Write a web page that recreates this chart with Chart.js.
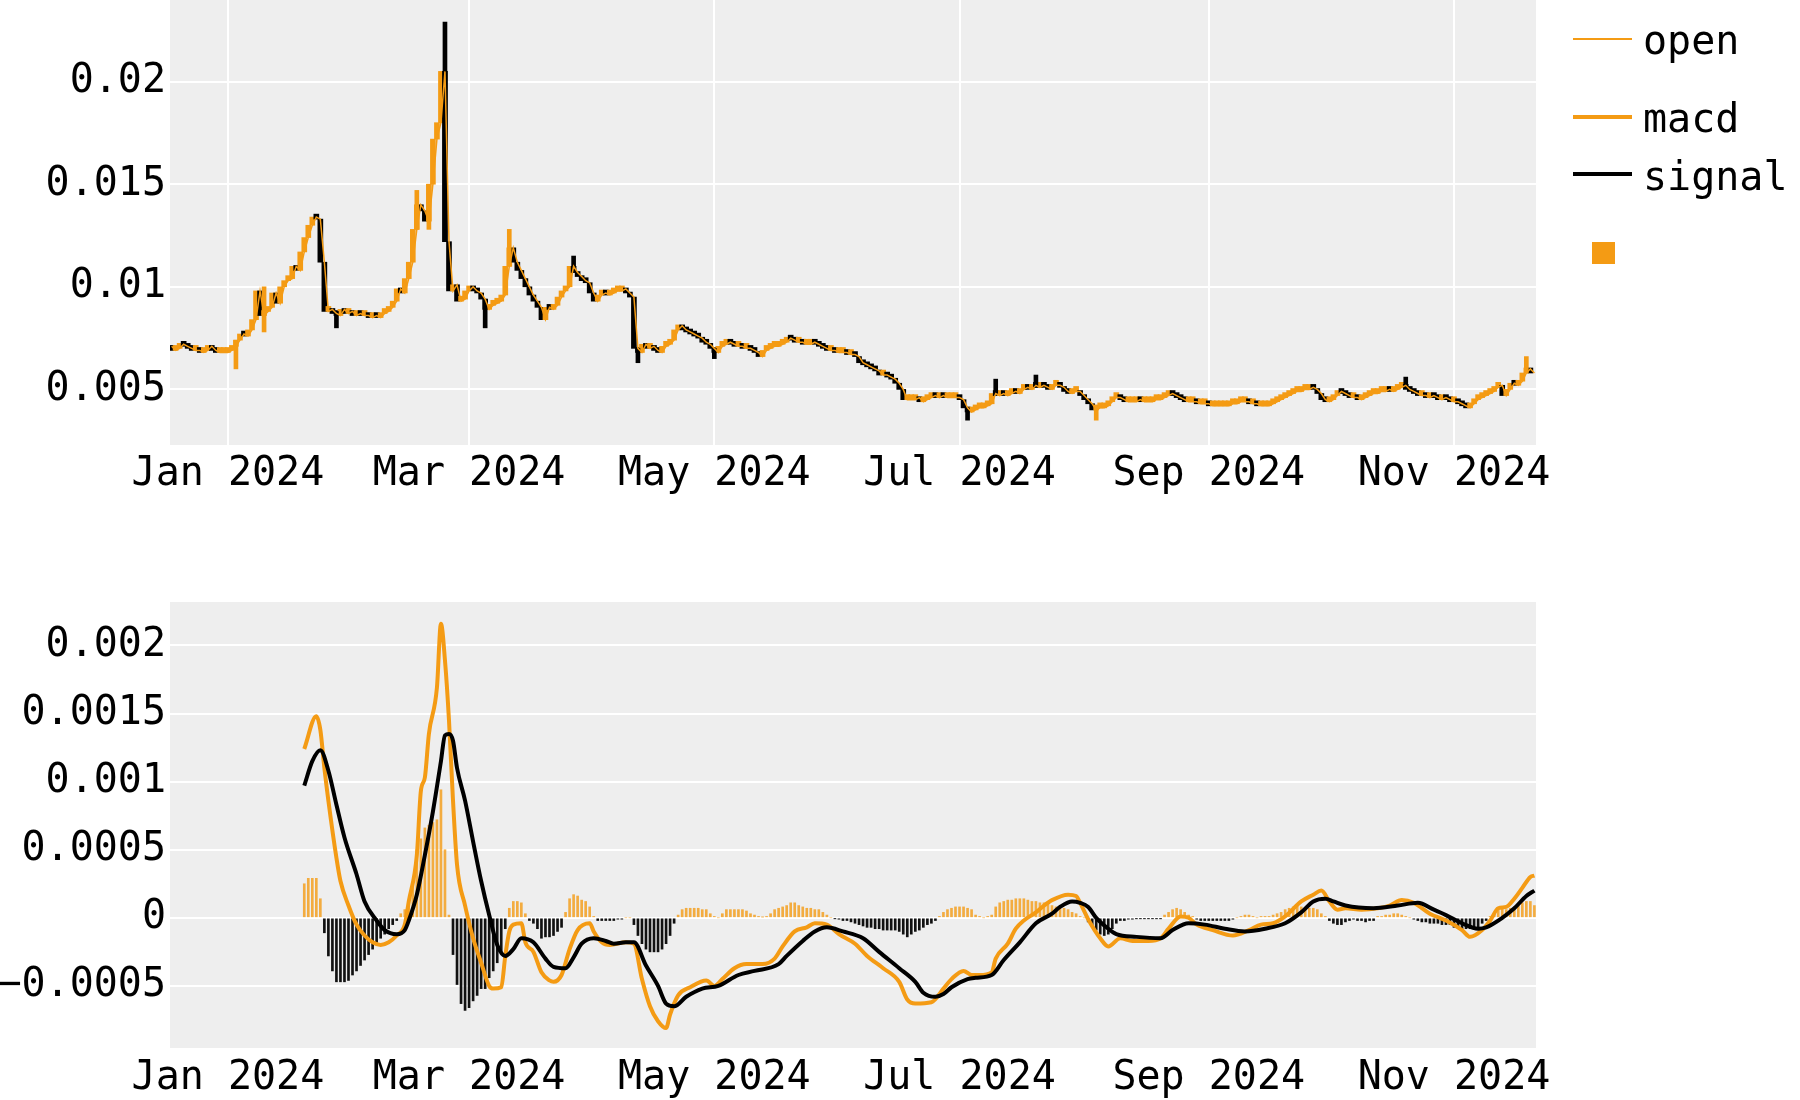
<!DOCTYPE html>
<html><head><meta charset="utf-8">
<script src="https://cdn.jsdelivr.net/npm/chart.js@4.4.1/dist/chart.umd.min.js"></script>
<style>
html,body{margin:0;padding:0;background:#fff;}
#wrap{position:relative;width:1800px;height:1100px;overflow:hidden;background:#fff;}
#top{position:absolute;left:0;top:0;width:1800px;height:530px;}
#bot{position:absolute;left:0;top:550px;width:1800px;height:550px;}
.lg{position:absolute;font-family:'DejaVu Sans Mono',monospace;font-size:40px;line-height:40px;color:#000;white-space:nowrap;}
.ln{position:absolute;}
</style></head>
<body><div id="wrap">
<canvas id="top" width="1800" height="530"></canvas>
<canvas id="bot" width="1800" height="550"></canvas>
<div class="ln" style="left:1573px;top:38px;width:59px;height:2px;background:#f49b14"></div>
<div class="lg" style="left:1643px;top:20px">open</div>
<div class="ln" style="left:1573px;top:115px;width:59px;height:4px;background:#f49b14"></div>
<div class="lg" style="left:1643px;top:98px">macd</div>
<div class="ln" style="left:1573px;top:172px;width:59px;height:4px;background:#000"></div>
<div class="lg" style="left:1643px;top:156px">signal</div>
<div class="ln" style="left:1592px;top:242px;width:23px;height:22px;background:#f49b14"></div>
</div>
<script>
// ---------- data ----------
const tickDays = [0, 60, 121, 182, 244, 305]; // days since 1 Jan 2024
const tickLabels = ['Jan 2024','Mar 2024','May 2024','Jul 2024','Sep 2024','Nov 2024'];
const priceTicks = [0.005, 0.01, 0.015, 0.02];
const priceTickLabels = ['0.005','0.01','0.015','0.02'];
const macdTicks = [-0.0005, 0, 0.0005, 0.001, 0.0015, 0.002];
const macdTickLabels = ['\u22120.0005','0','0.0005','0.001','0.0015','0.002'];

const openStartDay = -14;
const openPrices = [
0.0071,0.0069,0.0070,0.0072,0.0071,0.0070,0.0069,0.0069,0.0068,0.0069,
0.0071,0.0069,0.0068,0.0068,0.0068,0.0069,0.0071,0.0074,0.0077,0.0076,
0.0079,0.0084,0.0098,0.0086,0.0088,0.0090,0.0097,0.0092,0.0100,0.0103,
0.0104,0.0110,0.0108,0.0117,0.0124,0.0130,0.0134,0.0133,0.0112,0.0088,
0.0089,0.0087,0.0086,0.0089,0.0087,0.0088,0.0086,0.0087,0.0086,0.0086,
0.0085,0.0086,0.0085,0.0087,0.0088,0.0090,0.0093,0.0099,0.0097,0.0104,
0.0112,0.0128,0.0140,0.0137,0.0132,0.0150,0.0172,0.0180,0.0205,0.0122,
0.0098,0.0101,0.0093,0.0094,0.0098,0.0100,0.0098,0.0097,0.0094,0.0089,
0.0091,0.0092,0.0093,0.0096,0.0110,0.0119,0.0112,0.0108,0.0104,0.0100,
0.0096,0.0093,0.0090,0.0084,0.0090,0.0089,0.0091,0.0095,0.0098,0.0100,
0.0110,0.0107,0.0105,0.0103,0.0102,0.0097,0.0093,0.0096,0.0097,0.0096,
0.0097,0.0098,0.0098,0.0099,0.0097,0.0095,0.0070,0.0068,0.0072,0.0070,
0.0071,0.0069,0.0068,0.0071,0.0072,0.0074,0.0079,0.0081,0.0079,0.0078,
0.0077,0.0076,0.0075,0.0073,0.0072,0.0070,0.0068,0.0071,0.0072,0.0073,
0.0072,0.0071,0.0071,0.0070,0.0070,0.0069,0.0068,0.0066,0.0069,0.0070,
0.0071,0.0071,0.0072,0.0073,0.0075,0.0074,0.0073,0.0073,0.0072,0.0072,
0.0073,0.0072,0.0071,0.0070,0.0069,0.0069,0.0068,0.0068,0.0068,0.0067,
0.0067,0.0066,0.0063,0.0062,0.0061,0.0060,0.0059,0.0057,0.0057,0.0056,
0.0055,0.0053,0.0050,0.0045,0.0045,0.0045,0.0046,0.0044,0.0045,0.0046,
0.0047,0.0046,0.0047,0.0046,0.0046,0.0046,0.0046,0.0045,0.0041,0.0039,
0.0040,0.0041,0.0041,0.0042,0.0043,0.0048,0.0047,0.0048,0.0047,0.0048,
0.0049,0.0048,0.0050,0.0051,0.0050,0.0052,0.0051,0.0052,0.0051,0.0050,
0.0052,0.0052,0.0051,0.0049,0.0048,0.0049,0.0049,0.0047,0.0045,0.0043,
0.0040,0.0041,0.0041,0.0042,0.0044,0.0046,0.0046,0.0045,0.0044,0.0044,
0.0044,0.0045,0.0044,0.0044,0.0044,0.0045,0.0045,0.0046,0.0047,0.0048,
0.0047,0.0046,0.0045,0.0044,0.0044,0.0044,0.0043,0.0043,0.0043,0.0042,
0.0042,0.0042,0.0042,0.0042,0.0043,0.0043,0.0044,0.0044,0.0044,0.0043,
0.0043,0.0042,0.0042,0.0042,0.0043,0.0044,0.0045,0.0046,0.0047,0.0048,
0.0049,0.0049,0.0050,0.0050,0.0051,0.0050,0.0048,0.0045,0.0044,0.0045,
0.0047,0.0049,0.0048,0.0047,0.0046,0.0046,0.0045,0.0046,0.0047,0.0048,
0.0048,0.0049,0.0049,0.0050,0.0049,0.0050,0.0051,0.0052,0.0050,0.0049,
0.0048,0.0047,0.0047,0.0046,0.0047,0.0046,0.0045,0.0046,0.0045,0.0044,
0.0044,0.0043,0.0042,0.0041,0.0043,0.0045,0.0046,0.0047,0.0048,0.0049,
0.0051,0.0052,0.0047,0.0050,0.0053,0.0052,0.0054,0.0058,0.0060,0.0058
];

const wickDays = [2, 9, 27, 47, 50, 54, 64, 70, 86, 102, 121, 184, 191, 201, 216, 293, 323];
const wickLow  = [0.0060,0.0078,0.0080,0.0128,0.0128,0.0122,0.0080,0.0110,0.0107,0.0063,0.0065,0.0035,0.0048,0.0051,0.0035,0.0052,0.0058];
const wickHigh = [0.0074,0.0100,0.0088,0.0147,0.0150,0.0229,0.0094,0.0128,0.0115,0.0070,0.0070,0.0041,0.0055,0.0057,0.0041,0.0056,0.0066];

const macdDays = [19,22,23,24,25,27,28,30,32,34,36,38,40,42,44,45,47,48,49,50,52,53,54,55,56,57,59,61,63,65,66,68,69,70,71,73,74,76,78,80,81,83,85,87,90,91,93,95,99,101,103,105,107,109,110,112,115,119,121,123,126,129,133,136,138,141,144,146,149,152,156,159,163,167,169,171,175,178,180,183,185,187,190,191,194,196,198,201,203,205,209,211,212,214,217,219,222,225,229,232,234,237,239,241,245,250,254,257,260,263,267,270,272,274,276,278,282,286,289,292,295,299,303,307,309,312,314,316,318,320,322,324,325];
const macdValues = [0.00124,0.00148,0.00138,0.00110,0.00086,0.00044,0.00027,0.00009,-0.00005,-0.00013,-0.00018,-0.00020,-0.00018,-0.00013,-0.00005,0.00012,0.00046,0.00093,0.00103,0.00135,0.00169,0.00216,0.00189,0.00145,0.00086,0.00039,0.00009,-0.00015,-0.00033,-0.00050,-0.00052,-0.00051,-0.00028,-0.00010,-0.00005,-0.00004,-0.00018,-0.00025,-0.00040,-0.00046,-0.00047,-0.00042,-0.00023,-0.00009,-0.00004,-0.00010,-0.00018,-0.00020,-0.00018,-0.00019,-0.00045,-0.00065,-0.00076,-0.00081,-0.00071,-0.00057,-0.00051,-0.00046,-0.00050,-0.00045,-0.00037,-0.00034,-0.00034,-0.00030,-0.00021,-0.00010,-0.00007,-0.00004,-0.00005,-0.00012,-0.00019,-0.00028,-0.00037,-0.00047,-0.00060,-0.00063,-0.00062,-0.00052,-0.00045,-0.00039,-0.00042,-0.00042,-0.00040,-0.00030,-0.00019,-0.00008,-0.00002,0.00004,0.00009,0.00013,0.00017,0.00016,0.00011,-0.00001,-0.00015,-0.00021,-0.00015,-0.00017,-0.00017,-0.00015,-0.00008,0.00001,0.00000,-0.00005,-0.00009,-0.00013,-0.00009,-0.00005,-0.00004,0.00001,0.00012,0.00017,0.00020,0.00012,0.00006,0.00007,0.00006,0.00007,0.00009,0.00013,0.00011,0.00003,-0.00002,-0.00009,-0.00014,-0.00009,-0.00002,0.00007,0.00008,0.00014,0.00022,0.00030,0.00031];

const signalDays = [19,21,23,25,27,29,32,34,37,39,42,44,45,47,49,51,53,54,55,56,57,59,61,63,65,67,69,71,73,76,79,81,84,86,88,91,94,96,99,101,104,107,109,111,114,118,122,127,131,137,139,143,146,149,153,158,162,167,171,173,176,178,180,184,186,190,193,197,201,205,207,210,212,214,216,219,221,226,232,235,239,243,248,253,258,263,267,270,273,275,278,285,291,296,300,303,307,311,313,317,320,323,325];
const signalValues = [0.00097,0.00115,0.00123,0.00108,0.00083,0.00059,0.00032,0.00012,-0.00002,-0.00009,-0.00012,-0.00009,-0.00002,0.00017,0.00046,0.00078,0.00115,0.00134,0.00135,0.00130,0.00110,0.00086,0.00056,0.00027,0.00002,-0.00020,-0.00028,-0.00023,-0.00015,-0.00018,-0.00030,-0.00036,-0.00037,-0.00029,-0.00019,-0.00015,-0.00017,-0.00019,-0.00018,-0.00018,-0.00035,-0.00050,-0.00063,-0.00065,-0.00058,-0.00052,-0.00050,-0.00042,-0.00039,-0.00034,-0.00028,-0.00017,-0.00010,-0.00007,-0.00010,-0.00015,-0.00025,-0.00037,-0.00047,-0.00055,-0.00058,-0.00056,-0.00051,-0.00045,-0.00044,-0.00042,-0.00031,-0.00018,-0.00004,0.00003,0.00008,0.00012,0.00011,0.00008,0.00000,-0.00008,-0.00012,-0.00014,-0.00015,-0.00009,-0.00004,-0.00005,-0.00008,-0.00010,-0.00008,-0.00004,0.00004,0.00012,0.00014,0.00012,0.00009,0.00007,0.00009,0.00011,0.00006,0.00002,-0.00004,-0.00008,-0.00007,0.00000,0.00007,0.00016,0.00020];

const histStartDay = 19;
const histValues = [
0.00025,0.00029,0.00029,0.00029,0.00014,-0.00011,-0.00028,-0.00039,-0.00047,-0.00047,
-0.00047,-0.00046,-0.00042,-0.00039,-0.00035,-0.00031,-0.00027,-0.00023,-0.00018,-0.00015,
-0.00012,-0.00008,-0.00005,-0.00002,0.00003,0.00006,0.00012,0.00025,0.00050,0.00058,
0.00066,0.00068,0.00070,0.00072,0.00094,0.00050,0.00002,-0.00027,-0.00049,-0.00063,
-0.00068,-0.00066,-0.00061,-0.00057,-0.00052,-0.00052,-0.00044,-0.00039,-0.00033,-0.00025,
-0.00008,0.00007,0.00012,0.00012,0.00011,0.00003,-0.00002,-0.00004,-0.00008,-0.00015,
-0.00014,-0.00014,-0.00013,-0.00010,-0.00007,0.00004,0.00014,0.00017,0.00016,0.00013,
0.00012,0.00008,0.00001,-0.00002,-0.00002,-0.00002,-0.00002,-0.00002,-0.00001,-0.00001,
0,0,-0.00005,-0.00013,-0.00019,-0.00023,-0.00025,-0.00025,-0.00025,-0.00023,
-0.00019,-0.00013,-0.00004,0.00002,0.00006,0.00007,0.00007,0.00007,0.00007,0.00006,
0.00006,0.00003,0.00001,0,0.00003,0.00006,0.00006,0.00006,0.00006,0.00006,
0.00005,0.00003,0.00002,0.00001,0.000005,0.00001,0.00003,0.00006,0.00007,0.00008,
0.00009,0.00011,0.00011,0.00009,0.00008,0.00007,0.00007,0.00006,0.00006,0.00004,
0.00002,0,-0.000005,-0.00001,-0.00002,-0.00002,-0.00003,-0.00004,-0.00005,-0.00006,
-0.00007,-0.00007,-0.00008,-0.00008,-0.00009,-0.00009,-0.00009,-0.00009,-0.00010,-0.00012,
-0.00014,-0.00012,-0.00010,-0.00009,-0.00007,-0.00005,-0.00004,-0.00002,0.00001,0.00004,
0.00006,0.00007,0.00008,0.00008,0.00008,0.00007,0.00006,0.00002,0.00001,0,
0.00001,0.00002,0.00008,0.00011,0.00012,0.00013,0.00013,0.00014,0.00014,0.00014,
0.00013,0.00012,0.00012,0.00011,0.00011,0.00010,0.00009,0.00008,0.00007,0.00007,
0.00006,0.00004,0.00003,0.00001,0,-0.00003,-0.00005,-0.00009,-0.00012,-0.00013,
-0.00012,-0.00008,-0.00004,-0.00002,-0.00002,-0.00001,-0.00001,-0.000005,-0.000005,-0.000005,
-0.000005,-0.000005,-0.000005,-0.000005,0.00002,0.00004,0.00006,0.00007,0.00006,0.00004,
0.00002,0.00001,-0.00001,-0.00002,-0.00002,-0.00002,-0.00002,-0.00002,-0.00002,-0.00002,
-0.00002,-0.00001,0,0.00001,0.00002,0.00002,0.00001,0,0.00001,0.00001,
0.00001,0.00002,0.00003,0.00004,0.00006,0.00007,0.00008,0.00009,0.00008,0.00007,
0.00007,0.00007,0.00006,0.00003,0.00001,-0.00002,-0.00004,-0.00005,-0.00005,-0.00003,
-0.00002,-0.00001,-0.00002,-0.00002,-0.00003,-0.00002,-0.00002,0.00001,0.00001,0.00002,
0.00002,0.00003,0.00003,0.00002,0.00001,0,-0.00001,-0.00002,-0.00003,-0.00003,
-0.00004,-0.00004,-0.00004,-0.00005,-0.00005,-0.00005,-0.00007,-0.00007,-0.00008,-0.00008,
-0.00008,-0.00007,-0.00007,-0.00004,-0.00002,0.00001,0.00003,0.00006,0.00007,0.00006,
0.00007,0.00008,0.00009,0.00011,0.00012,0.00012,0.00009
];

// ---------- styling / build ----------
const ORANGE = '#f49b14';
const ORANGE_HIST = 'rgba(244,155,20,0.8)';
const BLACK = '#000000';
const FONT = {family: "'DejaVu Sans Mono', monospace", size: 40};

const plotBg = {
  id: 'plotBg',
  beforeDraw(chart) {
    const a = chart.chartArea, ctx = chart.ctx;
    ctx.save(); ctx.fillStyle = '#eeeeee';
    ctx.fillRect(a.left, a.top, a.right - a.left, a.bottom - a.top);
    ctx.restore();
  }
};

const candleData = [], candleColors = [];
for (let i = 0; i < openPrices.length - 1; i++) {
  candleData.push({x: openStartDay + i, y: [openPrices[i], openPrices[i + 1]]});
  candleColors.push(openPrices[i + 1] >= openPrices[i] ? ORANGE : BLACK);
}
const wickData = wickDays.map((d, i) => ({x: d, y: [wickLow[i], wickHigh[i]]}));
const wickColors = wickDays.map(d => {
  const i = d - openStartDay;
  return openPrices[i + 1] >= openPrices[i] ? ORANGE : BLACK;
});
const openData = openPrices.map((v, i) => ({x: openStartDay + i, y: v}));

const histData = histValues.map((v, i) => ({x: histStartDay + i, y: v}));
const histColors = histValues.map(v => v >= 0 ? ORANGE_HIST : '#111111');
const macdData = macdDays.map((d, i) => ({x: d, y: macdValues[i]}));
const signalData = signalDays.map((d, i) => ({x: d, y: signalValues[i]}));

const X_MIN = -14.4, X_MAX = 325.4;

function xScale(height, showGrid, pad) {
  return {
    type: 'linear', min: X_MIN, max: X_MAX, offset: false,
    afterBuildTicks: s => { s.ticks = tickDays.map(v => ({value: v})); },
    afterFit: s => { s.height = height; s.paddingLeft = 0; s.paddingRight = 0; },
    grid: {display: showGrid, color: '#ffffff', lineWidth: 2, drawTicks: false, offset: false},
    border: {display: false},
    ticks: {padding: pad, maxRotation: 0, minRotation: 0, autoSkip: false, font: FONT, color: '#000',
            callback: (v, i) => tickLabels[i]}
  };
}
function yScale(min, max, ticks, labels) {
  return {
    type: 'linear', min: min, max: max,
    afterBuildTicks: s => { s.ticks = ticks.map(v => ({value: v})); },
    afterFit: s => { s.width = 170; s.paddingTop = 0; s.paddingBottom = 0; },
    grid: {color: '#ffffff', lineWidth: 2, drawTicks: false},
    border: {display: false},
    ticks: {padding: 4, font: FONT, color: '#000', callback: (v, i) => labels[i]}
  };
}

Chart.defaults.font.family = "'DejaVu Sans Mono', monospace";

new Chart(document.getElementById('top'), {
  type: 'bar',
  data: {datasets: [
    {type: 'bar', label: 'candles', data: candleData, backgroundColor: candleColors,
     barThickness: 5, minBarLength: 5, grouped: false, borderWidth: 0, order: 3},
    {type: 'bar', label: 'wicks', data: wickData, backgroundColor: wickColors,
     barThickness: 4, grouped: false, borderWidth: 0, order: 2},
    {type: 'line', label: 'open', data: openData, borderColor: ORANGE, borderWidth: 1.5,
     pointRadius: 0, tension: 0, order: 1}
  ]},
  options: {
    responsive: false, animation: false, devicePixelRatio: 1,
    layout: {padding: {left: 0, right: 264, top: 0, bottom: 0}},
    plugins: {legend: {display: false}, tooltip: {enabled: false}},
    scales: {
      x: xScale(85, true, 6),
      y: yScale(0.00229, 0.02398, priceTicks, priceTickLabels)
    }
  },
  plugins: [plotBg]
});

new Chart(document.getElementById('bot'), {
  type: 'bar',
  data: {datasets: [
    {type: 'bar', label: 'hist', data: histData, backgroundColor: histColors,
     barThickness: 2, grouped: false, borderWidth: 0, order: 3},
    {type: 'line', label: 'macd', data: macdData, borderColor: ORANGE, borderWidth: 4,
     pointRadius: 0, cubicInterpolationMode: 'monotone', order: 2},
    {type: 'line', label: 'signal', data: signalData, borderColor: BLACK, borderWidth: 4,
     pointRadius: 0, cubicInterpolationMode: 'monotone', order: 1}
  ]},
  options: {
    responsive: false, animation: false, devicePixelRatio: 1,
    layout: {padding: {left: 0, right: 264, top: 52, bottom: 0}},
    plugins: {legend: {display: false}, tooltip: {enabled: false}},
    scales: {
      x: xScale(52, false, 7),
      y: yScale(-0.000956, 0.002319, macdTicks, macdTickLabels)
    }
  },
  plugins: [plotBg]
});
</script>
</body></html>
